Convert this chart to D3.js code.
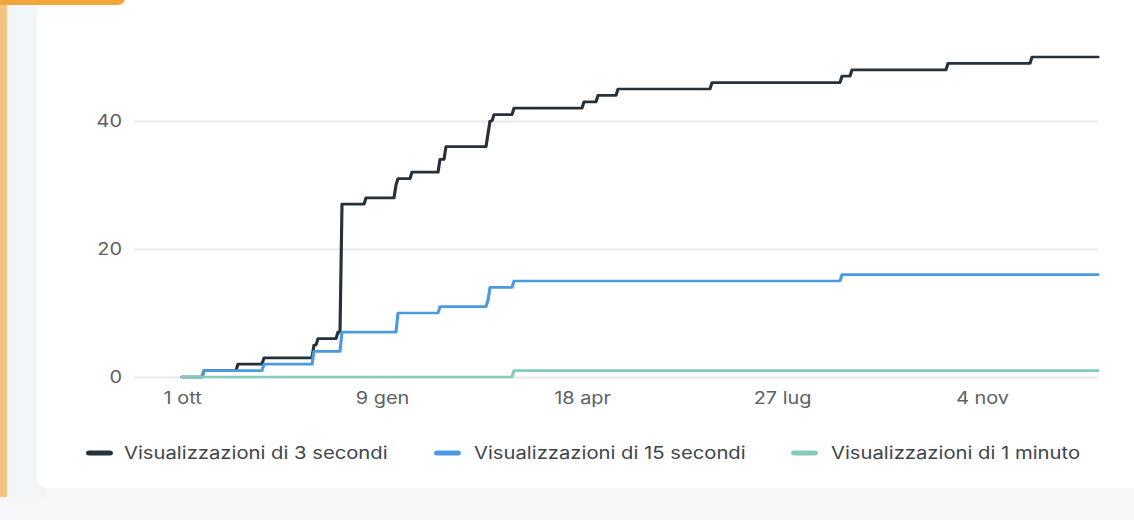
<!DOCTYPE html>
<html><head><meta charset="utf-8">
<script src="https://cdn.jsdelivr.net/npm/d3@7"></script>
<style>
html,body{margin:0;padding:0;background:#fff;}
svg{display:block;font-family:Inter,"Noto Sans",sans-serif;}
</style>
</head><body>
<svg id="c" width="1134" height="520"></svg>
<script>
// ---------- data ----------
const seriesNames = ["Visualizzazioni di 3 secondi", "Visualizzazioni di 15 secondi", "Visualizzazioni di 1 minuto"];
const seriesColors = ["#26313a", "#4a9be0", "#84cabd"];

// dates where the cumulative count changes, and the value from that date on
const dates3s = ["2023-10-01","2023-10-12","2023-10-29","2023-11-11","2023-12-06","2023-12-08","2023-12-18","2023-12-20",
  "2024-01-01","2024-01-16","2024-01-17","2024-01-24","2024-02-07","2024-02-10","2024-03-02","2024-03-03","2024-03-05",
  "2024-03-15","2024-04-19","2024-04-26","2024-05-06","2024-06-22","2024-08-26","2024-08-31","2024-10-18","2024-11-29","2025-01-01"];
const views3s = [0,1,2,3,5,6,7,27,28,30,31,32,34,36,38,40,41,42,43,44,45,46,47,48,49,50,50];

const dates15s = ["2023-10-01","2023-10-12","2023-11-11","2023-12-06","2023-12-20","2024-01-17","2024-02-07","2024-03-02",
  "2024-03-03","2024-03-15","2024-08-26","2025-01-01"];
const views15s = [0,1,2,4,7,10,11,12,14,15,16,16];

const dates1m = ["2023-10-01","2024-03-15","2025-01-01"];
const views1m = [0,1,1];

const xDomain = ["2023-09-07","2025-01-01"];
const xTickDates = ["2023-10-01","2024-01-09","2024-04-18","2024-07-27","2024-11-04"];
const xTickLabels = ["1 ott","9 gen","18 apr","27 lug","4 nov"];
const yTicks = [0,20,40];
const yMax = 50;

// ---------- layout ----------
const K = 1.17;            // horizontal stretch of the reference
const X = v => v / K;
const parse = s => new Date(s + "T00:00:00Z");
const DAY = 864e5;

const svg = d3.select("#c");

// page frame
svg.append("rect").attr("width",1134).attr("height",520).attr("fill","#f5f7f8");
svg.append("rect").attr("x",7).attr("y",0).attr("width",40).attr("height",497).attr("fill","#f2f6f8");
svg.append("rect").attr("x",37).attr("y",-12).attr("width",1120).attr("height",500).attr("rx",10).attr("fill","#ffffff");
svg.append("rect").attr("x",0).attr("y",0).attr("width",7).attr("height",497).attr("fill","#f6c47f");
svg.append("rect").attr("x",-10).attr("y",-8).attr("width",135).attr("height",13).attr("rx",7).attr("fill","#f0a63a");

const g = svg.append("g").attr("transform",`scale(${K},1)`);

const x = d3.scaleUtc().domain(xDomain.map(parse)).range([X(134), X(1098)]);
const y = d3.scaleLinear().domain([0, yMax]).range([377, 57]);

// y axis with gridlines
const yAxis = g.append("g").attr("transform",`translate(${X(134)},0)`)
  .call(d3.axisLeft(y).tickValues(yTicks).tickSize(-(X(1098)-X(134))).tickPadding(X(12)));
yAxis.select(".domain").remove();
yAxis.selectAll(".tick line").attr("stroke","#e8e8e8").attr("stroke-width",2);
yAxis.selectAll(".tick text").attr("font-size",17).attr("fill","#5c6166").attr("font-family","Inter");

// x axis
const xAxis = g.append("g").attr("transform",`translate(0,377)`)
  .call(d3.axisBottom(x).tickValues(xTickDates.map(parse)).tickFormat((d,i)=>xTickLabels[i]).tickSize(0).tickPadding(15));
xAxis.select(".domain").remove();
xAxis.selectAll(".tick text").attr("font-size",17).attr("fill","#5c6166").attr("font-family","Inter");

// lines
function stepPoints(dates, vals){
  const pts = [[parse(dates[0]), vals[0]]];
  for (let i = 1; i < dates.length; i++){
    const d = parse(dates[i]);
    pts.push([new Date(d - DAY), vals[i-1]]);
    pts.push([d, vals[i]]);
  }
  return pts;
}
const series = [[dates3s, views3s],[dates15s, views15s],[dates1m, views1m]];
const line = d3.line().x(d=>x(d[0])).y(d=>y(d[1]));
series.forEach((s,i)=>{
  g.append("path").datum(stepPoints(s[0], s[1]))
    .attr("d", line).attr("fill","none")
    .attr("stroke", seriesColors[i]).attr("stroke-width",2.7)
    .attr("stroke-linejoin","round").attr("stroke-linecap","round");
});

// legend
const legendSwatchX = [89, 437, 794];
const legendTextX = [124, 474, 831];
const lg = g.append("g");
seriesNames.forEach((n,i)=>{
  lg.append("line").attr("x1",X(legendSwatchX[i])).attr("x2",X(legendSwatchX[i]+21)).attr("y1",453).attr("y2",453)
    .attr("stroke",seriesColors[i]).attr("stroke-width",5).attr("stroke-linecap","round");
  lg.append("text").attr("x",X(legendTextX[i])).attr("y",453).attr("dy","0.35em")
    .attr("font-size",17.3).attr("fill","#3e454b").text(n);
});
</script>
</body></html>
